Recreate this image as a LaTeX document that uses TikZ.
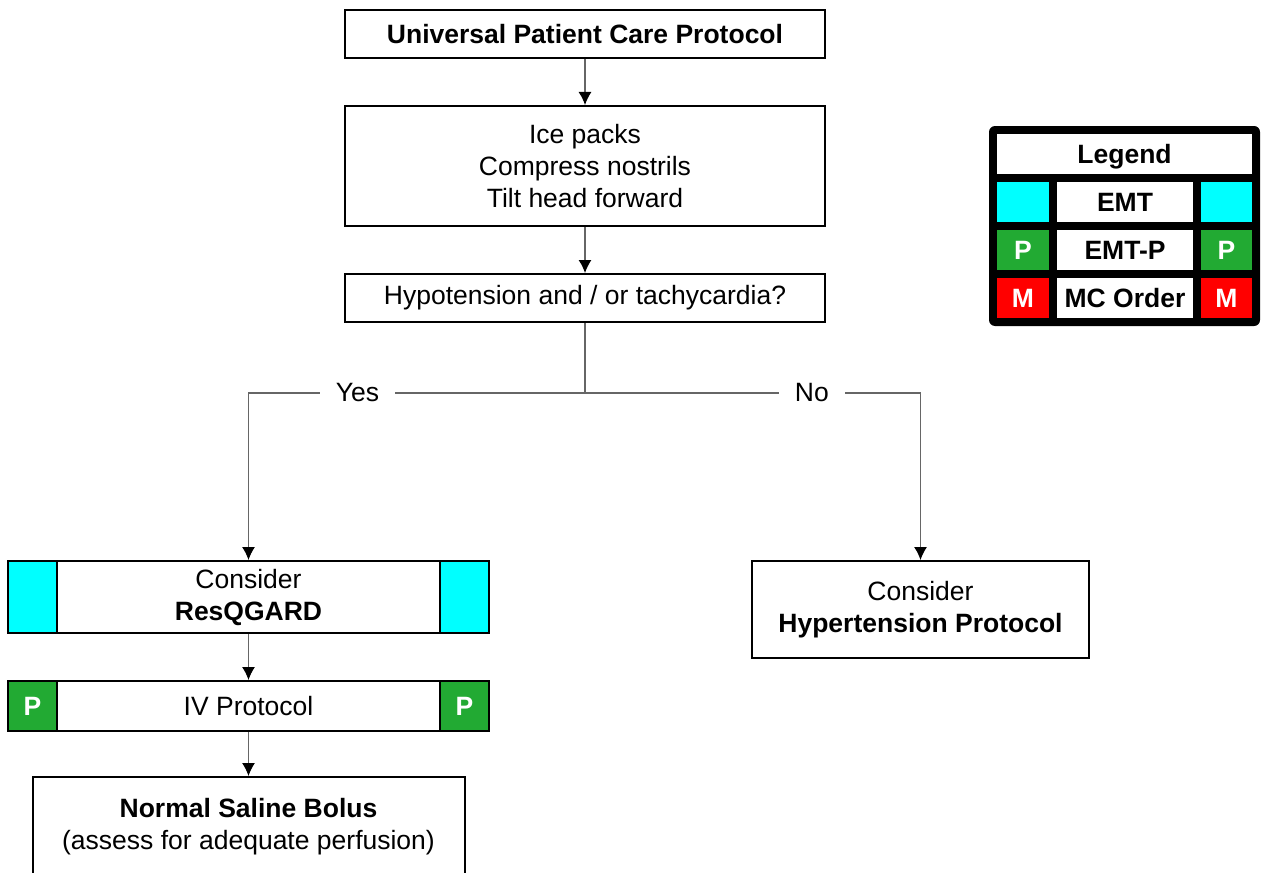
\documentclass[tikz,border=0pt]{standalone}
\usepackage{fontspec}
\setmainfont{Liberation Sans}
\usetikzlibrary{arrows.meta}
\definecolor{emtcyan}{RGB}{0,255,255}
\definecolor{emtpgreen}{RGB}{34,170,51}
\definecolor{mcred}{RGB}{255,0,0}
\newcommand{\chartfont}{\fontsize{13.25}{16}\selectfont}
\begin{document}
\begin{tikzpicture}[x=0.5pt,y=-0.5pt,
	box/.style={draw, line width=1pt, fill=white, align=center, inner sep=0pt, font=\chartfont},
	cell/.style={draw, line width=1pt, inner sep=0pt, minimum width=24.5pt, font=\chartfont\bfseries, text=white},
	leg/.style={inner sep=0pt, minimum height=20pt, text height=9.5pt, text depth=0pt, font=\chartfont\bfseries},
	conn/.style={draw=black!60, line width=0.6pt},
	arr/.style={conn, -{Latex[length=6.5pt,width=6.5pt,black]}},
	branch/.style={fill=white, inner xsep=8pt, inner ysep=2pt, font=\chartfont}]
	
	\useasboundingbox (0,0) rectangle (1262,872);
	
	% main column
	\node[box, minimum width=240pt, minimum height=24pt] (upcp) at (585,34) {\textbf{Universal Patient Care Protocol}};
	\node[box, minimum width=240pt, minimum height=60pt] (first) at (585,166) {Ice packs\\Compress nostrils\\Tilt head forward};
	\node[box, minimum width=240pt, minimum height=24pt] (hypo) at (585,298) {Hypotension and / or tachycardia?};
	\coordinate (split) at (585,393);
	
	% yes branch
	\node[box, minimum width=240.5pt, minimum height=36pt] (resq) at (248.5,597) {Consider\\\textbf{ResQGARD}};
	\node[cell, fill=emtcyan, minimum height=36pt, anchor=west] (resqL) at (resq.west) {};
	\node[cell, fill=emtcyan, minimum height=36pt, anchor=east] (resqR) at (resq.east) {};
	
	\node[box, minimum width=240.5pt, minimum height=25pt] (iv) at (248.5,706) {IV Protocol};
	\node[cell, fill=emtpgreen, minimum height=25pt, anchor=west] (ivL) at (iv.west) {P};
	\node[cell, fill=emtpgreen, minimum height=25pt, anchor=east] (ivR) at (iv.east) {P};
	
	\node[box, minimum width=216pt, minimum height=68pt] (saline) at (248.5,845) {\textbf{Normal Saline Bolus}\\(assess for adequate perfusion)\\\strut};
	
	% no branch
	\node[box, minimum width=168.5pt, minimum height=48.5pt] (hyper) at (920.5,609.5) {Consider\\\textbf{Hypertension Protocol}};
	
	\draw[arr] (upcp) -- (first);
	\draw[arr] (first) -- (hypo);
	\draw[conn] (hypo) -- (split);
	\draw[arr] (split) -| node[branch, pos=0.338] {Yes} (resq.north);
	\draw[arr] (split) -| node[branch, pos=0.338] {No} (hyper.north);
	\draw[arr] (resq) -- (iv);
	\draw[arr] (iv) -- (saline);
	
	% legend
	\node[fill=black, rounded corners=3pt, minimum width=135.5pt, minimum height=100pt, inner sep=0pt] (legend) at (1124.5,226) {};
	\node[leg, fill=white, minimum width=127.5pt] (legtitle) at (1124.5,154) {Legend};
	\foreach \y/\lab/\col/\mark [count=\i] in {202/EMT/emtcyan/{}, 250/EMT-P/emtpgreen/P, 298/MC Order/mcred/M}
	{
		\node[leg, fill=\col, text=white, minimum width=26pt] (legleft\i) at (1023,\y) {\mark};
		\node[leg, fill=white, minimum width=68pt] (legmid\i) at (1125,\y) {\lab};
		\node[leg, fill=\col, text=white, minimum width=25.5pt] (legright\i) at (1226.5,\y) {\mark};
	}
	
\end{tikzpicture}
\end{document}
